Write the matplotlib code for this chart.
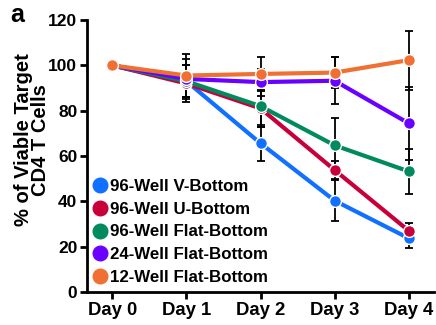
import numpy as np
import matplotlib.pyplot as plt

plt.rcParams['font.family'] = ['Liberation Sans', 'DejaVu Sans']
plt.rcParams['font.weight'] = 'bold'

days = ['Day 0', 'Day 1', 'Day 2', 'Day 3', 'Day 4']
labels = ['96-Well V-Bottom', '96-Well U-Bottom', '96-Well Flat-Bottom',
          '24-Well Flat-Bottom', '12-Well Flat-Bottom']
colors = ['#1170ff', '#c8003a', '#008a5e', '#6a00ff', '#f07033']

# mean viability per condition
v_bottom = [100, 93.0, 65.6, 40.3, 23.7]
u_bottom = [100, 92.0, 81.0, 53.8, 27.0]
flat_96 = [100, 93.0, 82.0, 64.7, 53.2]
flat_24 = [100, 94.0, 92.6, 93.2, 74.4]
flat_12 = [100, 95.5, 96.2, 96.8, 102.3]

# error (SD)
v_bottom_err = [0, 7.0, 8.0, 9.0, 4.4]
u_bottom_err = [0, 8.0, 8.0, 4.0, 3.5]
flat_96_err = [0, 7.0, 9.0, 12.0, 10.0]
flat_24_err = [0, 9.0, 6.0, 10.4, 16.0]
flat_12_err = [0, 9.5, 7.6, 7.0, 13.0]

means = [v_bottom, u_bottom, flat_96, flat_24, flat_12]
errs = [v_bottom_err, u_bottom_err, flat_96_err, flat_24_err, flat_12_err]

fig = plt.figure(figsize=(4.36, 3.25), dpi=100)
ax = fig.add_axes([87 / 436, 33 / 325, 347 / 436, 272 / 325])

x = np.arange(len(days))
for i in range(len(means)):
    ax.errorbar(x, means[i], yerr=errs[i], fmt='none', ecolor='black',
                elinewidth=1.3, capsize=3, capthick=1.3, zorder=2)
for i in range(len(means)):
    ax.plot(x, means[i], '-o', color=colors[i], lw=3, ms=8.5,
            markeredgecolor='white', markeredgewidth=1, label=labels[i],
            zorder=3 + i)

ax.set_xlim(-0.34, 4.34)
ax.set_ylim(0, 120)
ax.set_xticks(x)
ax.set_xticklabels(days)
ax.set_yticks([0, 20, 40, 60, 80, 100, 120])
ax.tick_params(direction='out', length=5, width=2, labelsize=12.5, pad=2)
ax.tick_params(axis='x', labelsize=13.3)
for s in ['top', 'right']:
    ax.spines[s].set_visible(False)
for s in ['left', 'bottom']:
    ax.spines[s].set_linewidth(2)

ax.set_ylabel('% of Viable Target\nCD4 T Cells', fontsize=14.5, fontweight='bold',
              linespacing=0.88)
ax.yaxis.set_label_coords(-0.106, 0.56)

handles = [plt.Line2D([], [], ls='none', marker='o', color=c, ms=10.5) for c in colors]
ax.legend(handles, labels, loc='lower left', bbox_to_anchor=(-0.012, -0.018),
          frameon=False, fontsize=12.2, handlelength=0.6, handletextpad=0.28,
          labelspacing=0.46, borderpad=0.2)

fig.text(0.024, 0.932, 'a', fontsize=18, fontweight='bold', va='baseline')

fig.savefig('out.png', dpi=100)
